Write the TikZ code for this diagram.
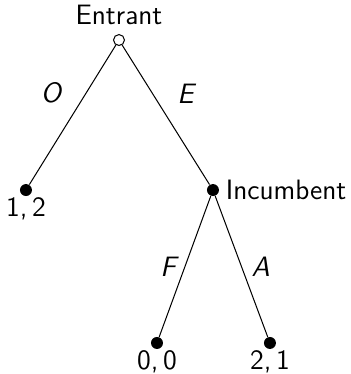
\documentclass[tikz,border=0pt]{standalone}
\begin{document}
\begin{tikzpicture}[font=\fontsize{11}{13}\sffamily,
  decision/.style={circle,draw,fill=white,inner sep=0pt,minimum size=4.3pt},
  terminal/.style={circle,fill,inner sep=0pt,minimum size=4.7pt},
  payoff/.style={label distance=-3pt},
  move/.style={font=\fontsize{11}{13}\sffamily\itshape}]
\useasboundingbox (-1.641,0.552) rectangle (3.186,-4.606);
  % Draw decision nodes
  \node[decision,label=above:{Entrant}] (entrant) at (0,0) {};
  \node[terminal,label={[label distance=-1pt]right:{Incumbent}}] (incumbent) at (1.296,-2.069) {};
  % Draw payoff nodes
  \node[terminal,label={[payoff]below:{1,\,2}}] (out) at (-1.283,-2.069) {};
  \node[terminal,label={[payoff]below:{0,\,0}}] (fight) at (0.524,-4.178) {};
  \node[terminal,label={[payoff]below:{2,\,1}}] (accom) at (2.082,-4.178) {};
  % Draw branches
  \draw (entrant) -- node[move,pos=0.5,above left=1pt] {O} (out);
  \draw (entrant) -- node[move,pos=0.5,above right=1pt] {E} (incumbent);
  \draw (incumbent) -- node[move,pos=0.5,left] {F} (fight);
  \draw (incumbent) -- node[move,pos=0.5,right=0.5pt] {A} (accom);
\end{tikzpicture}
\end{document}
